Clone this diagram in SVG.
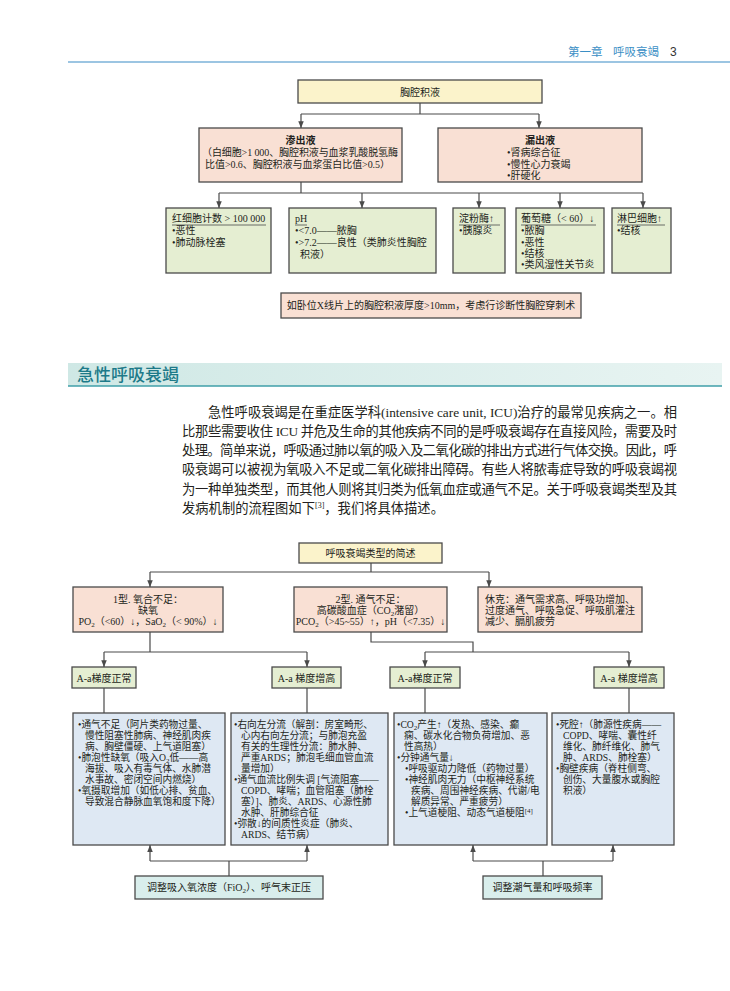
<svg xmlns="http://www.w3.org/2000/svg" width="730" height="991" viewBox="0 0 730 991">
<defs>
<style>
.box{stroke:#4a4a4a;stroke-width:1.3}
.y{fill:#fbf3cb}
.p{fill:#f9e0d4}
.g{fill:#e5eed2}
.bl{fill:#dee8f3}
.tl{fill:#d9eeec}
.con{fill:none;stroke:#4a4a4a;stroke-width:1.2}
.arr{fill:none;stroke:#4a4a4a;stroke-width:1.2;marker-end:url(#ah)}
text{font-family:"Liberation Serif","Noto Sans CJK SC",serif;fill:#231f20}
.s10{font-size:10px}
.s97{font-size:9.7px}
.c{text-anchor:middle}
.hd{font-weight:bold}
.ul{stroke:#4a4a4a;stroke-width:0.8}
.sub{font-size:7px}
.para{font-size:13.3px}
.hdr{font-family:"Noto Sans CJK SC",sans-serif;font-size:11.5px;fill:#3b8fc5}
.pg{font-family:"Liberation Sans",sans-serif;font-size:12px;fill:#333}
.ttl{font-family:"Noto Sans CJK SC",sans-serif;font-size:17px;fill:#1d7a89;font-weight:500}
</style>
<marker id="ah" viewBox="0 0 10 8" refX="10" refY="4" markerWidth="7" markerHeight="5.5" markerUnits="userSpaceOnUse" orient="auto"><path d="M0,0L10,4L0,8z" fill="#4a4a4a"/></marker>
<linearGradient id="band" x1="0" x2="1" y1="0" y2="0"><stop offset="0" stop-color="#cfe8e5"/><stop offset="1" stop-color="#e8f4f2"/></linearGradient>
</defs>
<rect width="730" height="991" fill="#fff"/>

<g id="page-header">
<line x1="68" y1="62" x2="730" y2="62" stroke="#9cc5e2" stroke-width="2"/>
<text class="hdr" x="568" y="56">第一章</text>
<text class="hdr" x="613" y="56">呼吸衰竭</text>
<text class="pg" x="670" y="56">3</text>
</g>

<g id="chart1-connectors">
<path class="con" d="M420,103V114M301,114H539M301,182V193M219,193H643"/>
<path class="arr" d="M301,114V128"/>
<path class="arr" d="M539,114V128"/>
<path class="arr" d="M219,193V208"/>
<path class="arr" d="M362,193V208"/>
<path class="arr" d="M479,193V208"/>
<path class="arr" d="M560,193V208"/>
<path class="arr" d="M643,193V208"/>
</g>

<g id="n-effusion">
<rect class="box y" x="298" y="80" width="244" height="23"/>
<text class="s10 c" x="420" y="95.5">胸腔积液</text>
</g>
<g id="n-exudate">
<rect class="box p" x="199" y="128" width="203" height="54"/>
<text class="s10 c hd" x="300.5" y="144">渗出液</text>
<text class="s10" x="202" y="156" textLength="196">（白细胞&gt;1 000、胸腔积液与血浆乳酸脱氢酶</text>
<text class="s10" x="205" y="168" textLength="185">比值&gt;0.6、胸腔积液与血浆蛋白比值&gt;0.5）</text>
</g>
<g id="n-transudate">
<rect class="box p" x="438" y="128" width="204" height="54"/>
<text class="s10 c hd" x="540" y="144">漏出液</text>
<text class="s10" x="507"><tspan x="507" y="156">•肾病综合征</tspan><tspan x="507" y="168">•慢性心力衰竭</tspan><tspan x="507" y="179">•肝硬化</tspan></text>
</g>
<g id="n-rbc">
<rect class="box g" x="166" y="208" width="105" height="65"/>
<text class="s10" x="172" y="222">红细胞计数 &gt; 100 000</text>
<line class="ul" x1="172" y1="225" x2="266" y2="225"/>
<text class="s10"><tspan x="172" y="234">•恶性</tspan><tspan x="172" y="246">•肺动脉栓塞</tspan></text>
</g>
<g id="n-ph">
<rect class="box g" x="289" y="208" width="147" height="65"/>
<text class="s10" x="295" y="222">pH</text>
<line class="ul" x1="295" y1="225" x2="307" y2="225"/>
<text class="s10"><tspan x="295" y="234">•&lt;7.0——脓胸</tspan><tspan x="295" y="246">•&gt;7.2——良性（类肺炎性胸腔</tspan><tspan x="300" y="258">积液）</tspan></text>
</g>
<g id="n-amylase">
<rect class="box g" x="453" y="208" width="52" height="65"/>
<text class="s10" x="459" y="222">淀粉酶↑</text>
<line class="ul" x1="459" y1="225" x2="500" y2="225"/>
<text class="s10" x="459" y="234">•胰腺炎</text>
</g>
<g id="n-glucose">
<rect class="box g" x="516" y="208" width="88" height="65"/>
<text class="s10" x="521" y="222">葡萄糖（&lt; 60）↓</text>
<line class="ul" x1="521" y1="225" x2="596" y2="225"/>
<text class="s10"><tspan x="521" y="234">•脓胸</tspan><tspan x="521" y="246">•恶性</tspan><tspan x="521" y="257">•结核</tspan><tspan x="521" y="268">•类风湿性关节炎</tspan></text>
</g>
<g id="n-lymph">
<rect class="box g" x="612" y="208" width="59" height="65"/>
<text class="s10" x="617" y="222">淋巴细胞↑</text>
<line class="ul" x1="617" y1="225" x2="665" y2="225"/>
<text class="s10" x="617" y="234">•结核</text>
</g>
<g id="n-xray">
<rect class="box p" x="281" y="293" width="300" height="25"/>
<text class="s10 c" x="431" y="309">如卧位X线片上的胸腔积液厚度&gt;10mm，考虑行诊断性胸腔穿刺术</text>
</g>

<g id="section-title">
<rect x="68" y="363" width="654" height="23" fill="url(#band)"/>
<line x1="68" y1="386" x2="722" y2="386" stroke="#3f9fa9" stroke-width="1.5"/>
<text class="ttl" x="77" y="381">急性呼吸衰竭</text>
</g>

<g id="paragraph">
<text class="para" x="208" y="416.5" textLength="469" lengthAdjust="spacing">急性呼吸衰竭是在重症医学科(intensive care unit, ICU)治疗的最常见疾病之一。相</text>
<text class="para" x="182" y="435.8" textLength="495" lengthAdjust="spacing">比那些需要收住 ICU 并危及生命的其他疾病不同的是呼吸衰竭存在直接风险，需要及时</text>
<text class="para" x="182" y="455.1" textLength="495" lengthAdjust="spacing">处理。简单来说，呼吸通过肺以氧的吸入及二氧化碳的排出方式进行气体交换。因此，呼</text>
<text class="para" x="182" y="474.4" textLength="495" lengthAdjust="spacing">吸衰竭可以被视为氧吸入不足或二氧化碳排出障碍。有些人将脓毒症导致的呼吸衰竭视</text>
<text class="para" x="182" y="493.7" textLength="495" lengthAdjust="spacing">为一种单独类型，而其他人则将其归类为低氧血症或通气不足。关于呼吸衰竭类型及其</text>
<text class="para" x="182" y="513">发病机制的流程图如下<tspan font-size="8" dy="-5">[3]</tspan><tspan dy="5">，我们将具体描述。</tspan></text>
</g>

<g id="chart2-connectors">
<path class="con" d="M371,563V572M150,572H489M150,632V652M104,652H307M371,632V642H473V652M425,652H629M104,688V713M307,688V713M425,688V713M629,688V713M229,876V861M150,861H307M543,876V861M473,861H613"/>
<path class="arr" d="M150,572V587"/>
<path class="arr" d="M489,572V587"/>
<path class="arr" d="M104,652V667"/>
<path class="arr" d="M307,652V667"/>
<path class="arr" d="M425,652V667"/>
<path class="arr" d="M629,652V667"/>
<path class="arr" d="M150,861V845"/>
<path class="arr" d="M307,861V845"/>
<path class="arr" d="M473,861V845"/>
<path class="arr" d="M613,861V845"/>
</g>

<g id="n-rf-types">
<rect class="box y" x="299" y="543" width="143" height="20"/>
<text class="s10 c" x="370.5" y="556.5">呼吸衰竭类型的简述</text>
</g>
<g id="n-type1">
<rect class="box p" x="73" y="587" width="150" height="45"/>
<text class="s10 c"><tspan x="148" y="602.5">1型. 氧合不足：</tspan><tspan x="148" y="613.5">缺氧</tspan><tspan x="148" y="624.5">PO<tspan class="sub" dy="2">2</tspan><tspan dy="-2">（&lt;60）↓，SaO</tspan><tspan class="sub" dy="2">2</tspan><tspan dy="-2">（&lt; 90%）↓</tspan></tspan></text>
</g>
<g id="n-type2">
<rect class="box p" x="294" y="587" width="153" height="45"/>
<text class="s10 c"><tspan x="370.5" y="602.5">2型. 通气不足：</tspan><tspan x="370.5" y="613.5">高碳酸血症（CO<tspan class="sub" dy="2">2</tspan><tspan dy="-2">潴留）</tspan></tspan><tspan x="370.5" y="624.5">PCO<tspan class="sub" dy="2">2</tspan><tspan dy="-2">（&gt;45~55）↑，pH（&lt;7.35）↓</tspan></tspan></text>
</g>
<g id="n-shock">
<rect class="box p" x="478" y="587" width="164" height="45"/>
<text class="s10"><tspan x="485" y="602.5">休克：通气需求高、呼吸功增加、</tspan><tspan x="485" y="613.5">过度通气、呼吸急促、呼吸肌灌注</tspan><tspan x="485" y="624.5">减少、膈肌疲劳</tspan></text>
</g>
<g id="n-aa1">
<rect class="box g" x="72" y="667" width="64" height="21"/>
<text class="s10 c" x="104" y="681.5">A-a梯度正常</text>
</g>
<g id="n-aa2">
<rect class="box g" x="272" y="667" width="69" height="21"/>
<text class="s10 c" x="306.5" y="681.5">A-a 梯度增高</text>
</g>
<g id="n-aa3">
<rect class="box g" x="390" y="667" width="70" height="21"/>
<text class="s10 c" x="425" y="681.5">A-a梯度正常</text>
</g>
<g id="n-aa4">
<rect class="box g" x="594" y="667" width="70" height="21"/>
<text class="s10 c" x="629" y="681.5">A-a 梯度增高</text>
</g>
<g id="n-causes1">
<rect class="box bl" x="73" y="713" width="152" height="132"/>
<text class="s97"><tspan x="78" y="728">•通气不足（阿片类药物过量、</tspan><tspan x="85" y="739">慢性阻塞性肺病、神经肌肉疾</tspan><tspan x="85" y="750">病、胸壁僵硬、上气道阻塞）</tspan><tspan x="78" y="761">•肺泡性缺氧（吸入O<tspan class="sub" dy="2">2</tspan><tspan dy="-2">低——高</tspan></tspan><tspan x="85" y="772">海拔、吸入有毒气体、水肺潜</tspan><tspan x="85" y="783">水事故、密闭空间内燃烧）</tspan><tspan x="78" y="794">•氧摄取增加（如低心排、贫血、</tspan><tspan x="85" y="805">导致混合静脉血氧饱和度下降）</tspan></text>
</g>
<g id="n-causes2">
<rect class="box bl" x="231" y="713" width="157" height="132"/>
<text class="s97"><tspan x="234" y="728">•右向左分流（解剖：房室畸形、</tspan><tspan x="241" y="739">心内右向左分流；与肺泡充盈</tspan><tspan x="241" y="750">有关的生理性分流：肺水肿、</tspan><tspan x="241" y="761">严重ARDS；肺泡毛细血管血流</tspan><tspan x="241" y="772">量增加）</tspan><tspan x="234" y="783">•通气血流比例失调 [气流阻塞——</tspan><tspan x="241" y="794">COPD、哮喘；血管阻塞（肺栓</tspan><tspan x="241" y="805">塞）]、肺炎、ARDS、心源性肺</tspan><tspan x="241" y="816">水肿、肝肺综合征</tspan><tspan x="234" y="827">•弥散↓的间质性炎症（肺炎、</tspan><tspan x="241" y="838">ARDS、结节病）</tspan></text>
</g>
<g id="n-causes3">
<rect class="box bl" x="394" y="713" width="153" height="132"/>
<text class="s97"><tspan x="397" y="728">•CO<tspan class="sub" dy="2">2</tspan><tspan dy="-2">产生↑（发热、感染、癫</tspan></tspan><tspan x="404" y="739">痫、碳水化合物负荷增加、恶</tspan><tspan x="404" y="750">性高热）</tspan><tspan x="397" y="761">•分钟通气量↓</tspan><tspan x="405" y="772">•呼吸驱动力降低（药物过量）</tspan><tspan x="405" y="783">•神经肌肉无力（中枢神经系统</tspan><tspan x="411" y="794">疾病、周围神经疾病、代谢/电</tspan><tspan x="411" y="805">解质异常、严重疲劳）</tspan><tspan x="405" y="816">•上气道梗阻、动态气道梗阻<tspan font-size="7" dy="-3">[4]</tspan></tspan></text>
</g>
<g id="n-causes4">
<rect class="box bl" x="552" y="713" width="122" height="132"/>
<text class="s97"><tspan x="556" y="728">•死腔↑（肺源性疾病——</tspan><tspan x="563" y="739">COPD、哮喘、囊性纤</tspan><tspan x="563" y="750">维化、肺纤维化、肺气</tspan><tspan x="563" y="761">肿、ARDS、肺栓塞）</tspan><tspan x="556" y="772">•胸壁疾病（脊柱侧弯、</tspan><tspan x="563" y="783">创伤、大量腹水或胸腔</tspan><tspan x="563" y="794">积液）</tspan></text>
</g>
<g id="n-adjust-o2">
<rect class="box tl" x="135" y="876" width="188" height="23"/>
<text class="s10 c" x="229" y="891">调整吸入氧浓度（FiO<tspan class="sub" dy="2">2</tspan><tspan dy="-2">）、呼气末正压</tspan></text>
</g>
<g id="n-adjust-vent">
<rect class="box tl" x="483" y="876" width="119" height="23"/>
<text class="s10 c" x="542.5" y="891">调整潮气量和呼吸频率</text>
</g>
</svg>
